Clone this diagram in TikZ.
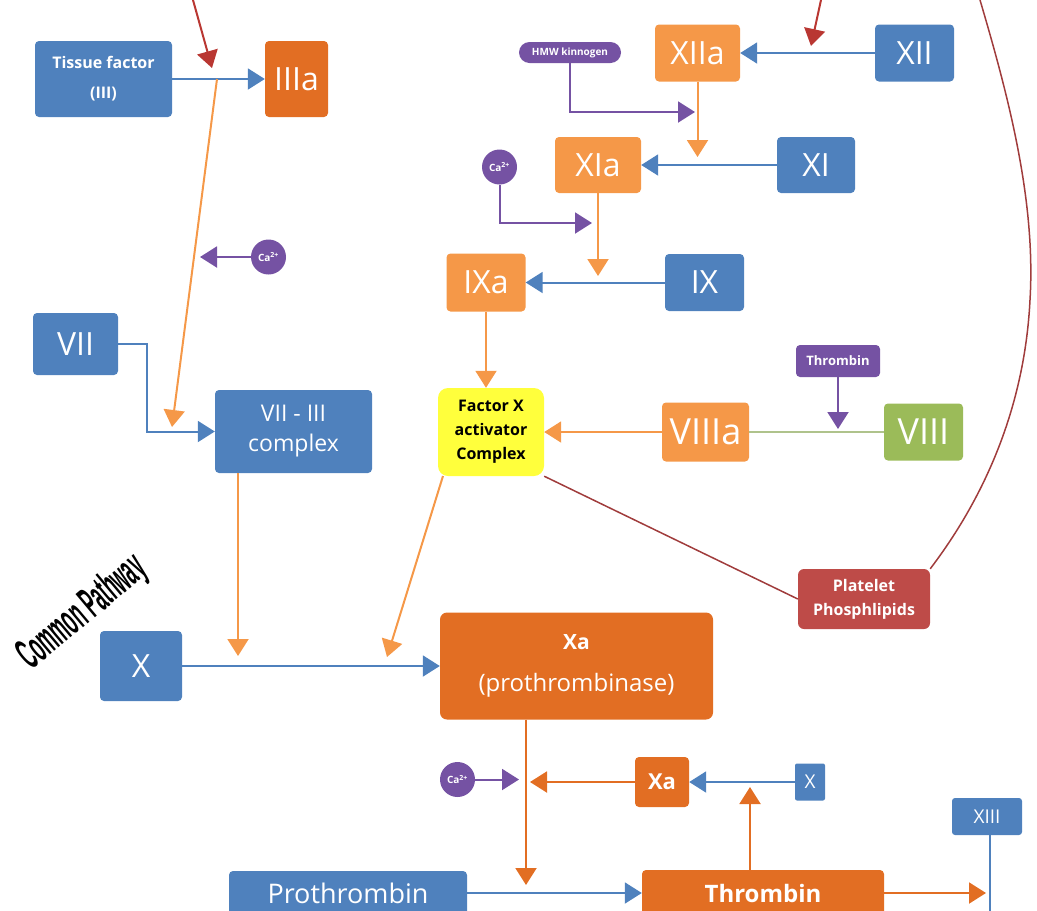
\documentclass[tikz,border=0pt]{standalone}
\usepackage{fontspec}
\setmainfont{Open Sans}
\newfontfamily\cpfont{Liberation Sans}
\usetikzlibrary{arrows.meta,calc}
\definecolor{cblue}{RGB}{79,129,189}
\definecolor{dorange}{RGB}{226,110,35}
\definecolor{lorange}{RGB}{245,152,72}
\definecolor{cpurple}{RGB}{117,82,163}
\definecolor{cgreen}{RGB}{155,187,89}
\definecolor{lgreen}{RGB}{175,195,140}
\definecolor{cplate}{RGB}{190,75,72}
\definecolor{cred}{RGB}{185,55,50}
\definecolor{curve}{RGB}{160,60,60}
\definecolor{cyellow}{RGB}{255,255,60}
\newcommand{\fsz}[2]{\fontsize{#1}{#2}\selectfont}
\begin{document}
\begin{tikzpicture}[x=1pt,y=-1pt,
  box/.style={rounded corners=4pt, inner sep=0pt, text=white, align=center},
  bigtxt/.style={font=\fsz{32pt}{36pt}},
  ca/.style={circle, fill=cpurple, minimum size=35pt, inner sep=0pt, text=white, font=\fsz{10pt}{11pt}\bfseries},
  arr/.style={-{Triangle[length=17pt,width=21pt]}, line width=2pt},
  lnk/.style={line width=2pt}
]
\useasboundingbox (0,0) rectangle (1037,911);
\clip (0,0) rectangle (1037,911);

% ---------- nodes ----------
\node[box, fill=cblue, minimum width=137pt, minimum height=76pt, font=\fsz{16pt}{30pt}\bfseries] (tf) at (103.5,79) {Tissue factor\\(III)};
\node[box, fill=dorange, minimum width=63pt, minimum height=76pt, bigtxt] (IIIa) at (296.5,79) {IIIa};
\node[ca] (ca1) at (268.5,257) {Ca\textsuperscript{2+}};
\node[box, fill=cblue, minimum width=85pt, minimum height=62pt, bigtxt] (VII) at (75.5,344) {VII};
\node[box, fill=cblue, minimum width=157pt, minimum height=83pt, font=\fsz{23pt}{30pt}] (c73) at (293.5,431.5) {VII - III\\complex};
\node[box, fill=cblue, minimum width=82pt, minimum height=70pt, bigtxt] (Xl) at (141,666) {X};
\node[rotate=40, inner sep=0pt, font=\cpfont\bfseries\fsz{44pt}{46pt}] (cp) at (83,613) {\scalebox{0.4}[1]{Common Pathway}};

\node[box, fill=cpurple, rounded corners=10.5pt, minimum width=102pt, minimum height=21pt, font=\fsz{10pt}{12pt}\bfseries] (HMW) at (570,52.5) {HMW kinnogen};
\node[box, fill=lorange, minimum width=85pt, minimum height=57pt, bigtxt] (XIIa) at (697.5,53) {XIIa};
\node[box, fill=cblue, minimum width=79pt, minimum height=57pt, bigtxt] (XII) at (914.5,53) {XII};
\node[ca] (ca2) at (499.5,167) {Ca\textsuperscript{2+}};
\node[box, fill=lorange, minimum width=86pt, minimum height=56pt, bigtxt] (XIa) at (598,165) {XIa};
\node[box, fill=cblue, minimum width=78pt, minimum height=56pt, bigtxt] (XI) at (816,165) {XI};
\node[box, fill=lorange, minimum width=79pt, minimum height=58pt, bigtxt] (IXa) at (486,282.5) {IXa};
\node[box, fill=cblue, minimum width=79pt, minimum height=57pt, bigtxt] (IX) at (704.5,282.5) {IX};

\node[box, fill=cyellow, text=black, rounded corners=10pt, minimum width=106pt, minimum height=88pt, font=\fsz{16pt}{24pt}\bfseries] (fx) at (491,432) {Factor X\\activator\\Complex};
\node[box, fill=cpurple, minimum width=84pt, minimum height=32pt, font=\fsz{13pt}{15pt}\bfseries] (thr) at (838,361) {Thrombin};
\node[box, fill=lorange, minimum width=87pt, minimum height=59pt, font=\fsz{36pt}{40pt}] (VIIIa) at (705.5,432) {VIIIa};
\node[box, fill=cgreen, minimum width=79pt, minimum height=57pt, font=\fsz{36pt}{40pt}] (VIII) at (923.5,432) {VIII};
\node[box, fill=cplate, rounded corners=6pt, minimum width=132pt, minimum height=60pt, font=\fsz{16pt}{24pt}\bfseries] (PP) at (864,599) {Platelet\\Phosphlipids};

\node[box, fill=dorange, rounded corners=7pt, minimum width=273pt, minimum height=107pt, font=\fsz{24pt}{42pt}] (Xa) at (576.5,666) {\textbf{\fsz{21pt}{42pt}Xa}\\(prothrombinase)};
\node[ca] (ca3) at (457.5,779.5) {Ca\textsuperscript{2+}};
\node[box, fill=dorange, minimum width=54pt, minimum height=50pt, font=\fsz{22pt}{26pt}\bfseries] (Xas) at (662,782) {Xa};
\node[box, fill=cblue, rounded corners=2pt, minimum width=30pt, minimum height=37pt, font=\fsz{19pt}{22pt}] (Xs) at (810,782) {X};
\node[box, fill=cblue, rounded corners=3pt, minimum width=70pt, minimum height=37pt, font=\fsz{19pt}{22pt}] (XIII) at (987,816.5) {XIII};
\node[box, fill=cblue, minimum width=238pt, minimum height=44pt, font=\fsz{27pt}{30pt}] (Prot) at (348,893) {Prothrombin};
\node[box, fill=dorange, minimum width=242pt, minimum height=46pt, font=\fsz{24pt}{28pt}\bfseries] (Thr) at (763,893) {Thrombin};

% ---------- free-end coordinates ----------
\coordinate (r1) at (193,0);
\coordinate (rt1) at (212,68);
\coordinate (j1) at (217,79);
\coordinate (j2) at (172,427);
\coordinate (cat1) at (200,257);
\coordinate (vkn) at (147,344);
\coordinate (j3) at (238,656);
\coordinate (fxo) at (443,476);
\coordinate (j4) at (387,657);
\coordinate (j5) at (598,276);
\coordinate (j6) at (592,223);
\coordinate (j7) at (695,112);
\coordinate (j8) at (697.5,157);
\coordinate (r2) at (821,0);
\coordinate (rt2) at (811,46);
\coordinate (cvs) at (980,0);
\coordinate (j9) at (838,429);
\coordinate (j10) at (526,885);
\coordinate (j11) at (519,779.5);
\coordinate (j12) at (530,782);
\coordinate (j13) at (750,787);
\coordinate (j14) at (986,893);
\coordinate (j15) at (990,911);

% ---------- connectors ----------
% extrinsic
\draw[arr, cblue] (tf.east) -- (IIIa.west);
\draw[arr, cred] (r1) -- (rt1);
\draw[arr, lorange] (j1) -- (j2);
\draw[arr, cpurple] (ca1.west) -- (cat1);
\draw[arr, cblue] (VII.east) -- (vkn) |- (c73.west);
\draw[arr, lorange] (c73.south -| j3) -- (j3);
\draw[arr, cblue] (Xl.east) -- (Xa.west);
\draw[arr, lorange] (fxo) -- (j4);

% intrinsic
\draw[arr, cblue] (XII.west) -- (XIIa.east);
\draw[arr, cred] (r2) -- (rt2);
\draw[arr, lorange] (XIIa.south) -- (j8);
\draw[arr, cpurple] (HMW.south) |- (j7);
\draw[arr, cblue] (XI.west) -- (XIa.east);
\draw[arr, lorange] (XIa.south) -- (j5);
\draw[arr, cpurple] (ca2.south) |- (j6);
\draw[arr, cblue] (IX.west) -- (IXa.east);
\draw[arr, lorange] (IXa.south) -- (IXa.south |- fx.north);
\draw[lnk, lgreen] (VIII.west) -- (VIIIa.east);
\draw[arr, cpurple] (thr.south) -- (j9);
\draw[arr, lorange] (VIIIa.west) -- (fx.east);
\draw[line width=1.5pt, curve] (fx.south east) -- (PP.west);
\draw[line width=1.5pt, curve] (cvs) .. controls (1008,95) and (1036,200) .. (1030,300)
  .. controls (1024,420) and (975,510) .. (PP.north east);

% common
\draw[arr, dorange] (Xa.south -| j10) -- (j10);
\draw[arr, cpurple] (ca3.east) -- (j11);
\draw[arr, dorange] (Xas.west) -- (j12);
\draw[arr, cblue] (Xs.west) -- (Xas.east);
\draw[arr, dorange] (Thr.north -| j13) -- (j13);
\draw[arr, cblue] (Prot.east) -- (Thr.west);
\draw[arr, dorange] (Thr.east) -- (j14);
\draw[lnk, cblue] (XIII.south -| j15) -- (j15);
\end{tikzpicture}
\end{document}
